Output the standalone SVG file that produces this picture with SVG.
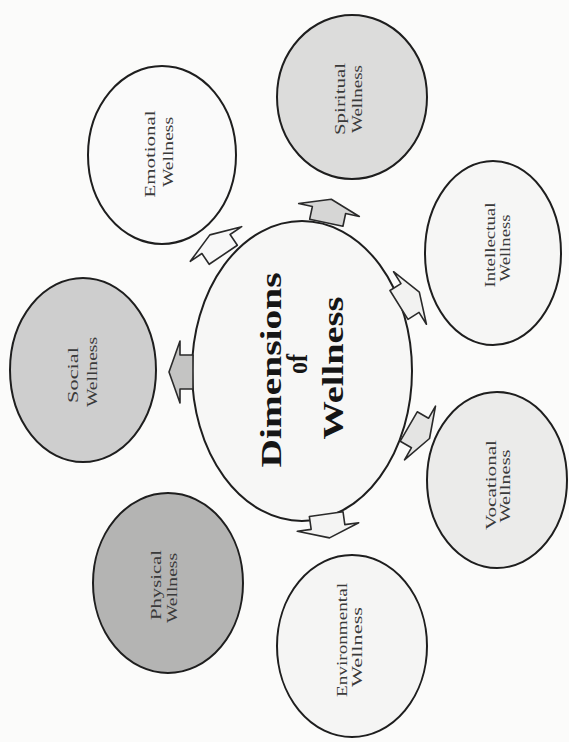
<svg xmlns="http://www.w3.org/2000/svg" width="569" height="742" viewBox="0 0 569 742">
<defs>
<style>
.bg{fill:#fbfbfa}
.node{stroke:#1e1e1e;stroke-width:2}
.lbl{font-family:"Liberation Serif","Times New Roman",serif;font-size:14px;fill:#3a3a3a;text-anchor:middle}
.title{font-family:"Liberation Serif","Times New Roman",serif;font-size:30px;font-weight:bold;fill:#151515;text-anchor:middle}
.arr{stroke:#2a2a2a;stroke-width:1.6;stroke-linejoin:round}
</style>
<path id="arrow" d="M -17,13 L -17,0 L -31,0 L 0,-11 L 31,0 L 17,0 L 17,13 Z"/>
</defs>
<rect class="bg" x="0" y="0" width="569" height="742"/>

<g id="center">
<ellipse class="node" cx="302" cy="371" rx="110" ry="150" fill="#f7f7f6"/>
<text class="title" transform="translate(281,370) rotate(-90)" textLength="195" lengthAdjust="spacingAndGlyphs">Dimensions</text>
<text class="title" transform="translate(307,364) rotate(-90)" textLength="20" lengthAdjust="spacingAndGlyphs">of</text>
<text class="title" transform="translate(343,368) rotate(-90)" textLength="143" lengthAdjust="spacingAndGlyphs">Wellness</text>
</g>

<g id="emotional">
<ellipse class="node" cx="162" cy="155" rx="74" ry="89" fill="#fafafa"/>
<text class="lbl" transform="translate(155,154) rotate(-90)" textLength="87" lengthAdjust="spacingAndGlyphs">Emotional</text>
<text class="lbl" transform="translate(173,152) rotate(-90)" textLength="70" lengthAdjust="spacingAndGlyphs">Wellness</text>
</g>

<g id="spiritual">
<ellipse class="node" cx="352" cy="97" rx="75" ry="82" fill="#dcdcdb"/>
<text class="lbl" transform="translate(345,99) rotate(-90)" textLength="72" lengthAdjust="spacingAndGlyphs">Spiritual</text>
<text class="lbl" transform="translate(362,99) rotate(-90)" textLength="68" lengthAdjust="spacingAndGlyphs">Wellness</text>
</g>

<g id="intellectual">
<ellipse class="node" cx="493" cy="253" rx="68" ry="92" fill="#f6f6f5"/>
<text class="lbl" transform="translate(495,245) rotate(-90)" textLength="85" lengthAdjust="spacingAndGlyphs">Intellectual</text>
<text class="lbl" transform="translate(510,248) rotate(-90)" textLength="67" lengthAdjust="spacingAndGlyphs">Wellness</text>
</g>

<g id="vocational">
<ellipse class="node" cx="497" cy="480" rx="70" ry="88" fill="#ebebea"/>
<text class="lbl" transform="translate(496,485) rotate(-90)" textLength="90" lengthAdjust="spacingAndGlyphs">Vocational</text>
<text class="lbl" transform="translate(510,486) rotate(-90)" textLength="73" lengthAdjust="spacingAndGlyphs">Wellness</text>
</g>

<g id="environmental">
<ellipse class="node" cx="352" cy="646" rx="75" ry="91" fill="#f5f5f4"/>
<text class="lbl" transform="translate(347,640) rotate(-90)" textLength="114" lengthAdjust="spacingAndGlyphs">Environmental</text>
<text class="lbl" transform="translate(362,647) rotate(-90)" textLength="80" lengthAdjust="spacingAndGlyphs">Wellness</text>
</g>

<g id="physical">
<ellipse class="node" cx="168" cy="583" rx="75" ry="90" fill="#b4b4b3"/>
<text class="lbl" transform="translate(161,585) rotate(-90)" textLength="70" lengthAdjust="spacingAndGlyphs">Physical</text>
<text class="lbl" transform="translate(177,588) rotate(-90)" textLength="70" lengthAdjust="spacingAndGlyphs">Wellness</text>
</g>

<g id="social">
<ellipse class="node" cx="83" cy="370" rx="73" ry="92" fill="#cecece"/>
<text class="lbl" transform="translate(78,375) rotate(-90)" textLength="56" lengthAdjust="spacingAndGlyphs">Social</text>
<text class="lbl" transform="translate(97,372) rotate(-90)" textLength="70" lengthAdjust="spacingAndGlyphs">Wellness</text>
</g>

<g id="connectors">
<use href="#arrow" class="arr" fill="#f8f8f8" transform="translate(216,244) rotate(-34)"/>
<use href="#arrow" class="arr" fill="#d6d6d5" transform="translate(329,210) rotate(12)"/>
<use href="#arrow" class="arr" fill="#f2f2f1" transform="translate(410,298) rotate(58)"/>
<use href="#arrow" class="arr" fill="#e4e4e3" transform="translate(420,433) rotate(120)"/>
<use href="#arrow" class="arr" fill="#f4f4f3" transform="translate(328,527) rotate(172)"/>
<use href="#arrow" class="arr" fill="#c4c4c3" transform="translate(180,372) rotate(-90)"/>
</g>
</svg>
